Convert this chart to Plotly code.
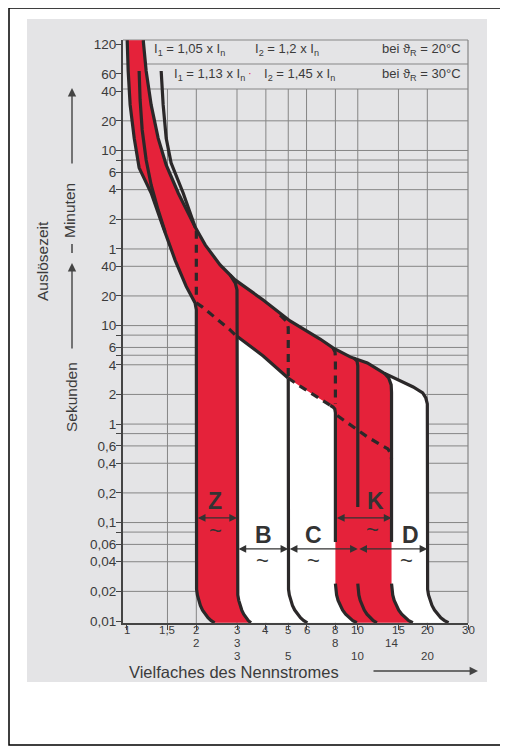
import numpy as np
import plotly.graph_objects as go

# ---------------- data: multiples of I_n  /  trip time in seconds ----------------
# thermal lower limit (I1 = 1,05 x In, 20 °C) - left edge of the red band
lower20_x = [1.004, 1.014, 1.034, 1.077, 1.131, 1.275, 1.437, 1.62, 1.808, 1.919, 1.975, 2.0]
lower20_t = [7900, 3850, 1740, 800, 400, 222, 100, 46, 25, 19.5, 17, 14.5]

# common upper trip curve, running into the instantaneous limit of D
upper_x = [1.178, 1.213, 1.275, 1.367, 1.481, 1.670, 1.977, 2.185, 2.535, 2.944, 3.895,
           5.09, 6.87, 7.81, 9.27, 11.0, 12.93, 15.0, 17.37, 19.1, 19.7, 20.0]
upper_t = [7900, 3850, 1740, 800, 428, 222, 100, 66, 41.3, 29.1, 18.2,
           11.15, 7.3, 5.93, 4.81, 4.18, 3.31, 2.81, 2.38, 2.07, 1.84, 1.6]

# 30 °C curves (start at 60 min)
i1_30_x = [1.131, 1.142, 1.166, 1.213, 1.275, 1.367, 1.466]
i1_30_t = [3850, 1955, 969, 480, 268, 149, 89]
i2_30_x = [1.409, 1.437, 1.481, 1.556, 1.754, 1.977]
i2_30_t = [3850, 1740, 800, 448, 222, 100]

# continuation of the lower thermal limit
low_23_x = [2.0, 2.12, 2.80, 2.97]
low_23_t = [17, 15.5, 9.04, 7.9]
low_mid_x = [3.0, 3.895, 4.99, 5.60, 6.87, 7.6, 7.81, 7.95, 8.0]
low_mid_t = [7.8, 4.92, 2.94, 2.44, 1.80, 1.55, 1.49, 1.42, 1.3]
low_K_x = [8.15, 11.0, 13.5, 13.9, 14.0]
low_K_t = [1.22, 0.74, 0.56, 0.5, 0.44]

# instantaneous (magnetic) limits and where their curves meet the time axis
mag_x = [2, 3, 5, 8, 10, 14, 20]
mag_foot_x = [2.4, 3.45, 6.05, 9.9, 12.1, 17.3, 24.7]
foot_of = dict(zip(mag_x, mag_foot_x))

line2_t = [92, 19]
line3_x = [2.80, 2.95, 3.0];          line3_t = [32.7, 27, 23]
line5_x = [4.61, 4.93, 5.0, 5.0];     line5_t = [12.8, 11.0, 9.5, 2.9]
line8_x = [7.81, 7.97, 8.0, 8.0];     line8_t = [5.93, 5.4, 4.8, 1.6]
line10_x = [9.6, 9.93, 10.0];         line10_t = [4.7, 4.35, 3.9]
line14_x = [13.0, 13.6, 13.95, 14.0]; line14_t = [3.3, 2.95, 2.5, 2.1]
gap_low = [0.0398, 0.0636]     # gap for the B/C/D arrows
gap_high = [0.0884, 0.144]     # gap for the K arrow

# band labels
band_names = ["Z", "K", "B", "C", "D"]
band_from = [2, 8, 3, 5, 10]
band_to = [3, 14, 5, 10, 20]
band_arrow_t = [0.1115, 0.1115, 0.054, 0.054, 0.054]
band_label_x = [2.414, 11.89, 3.895, 6.41, 16.86]
band_label_t = [0.166, 0.166, 0.0749, 0.0749, 0.0749]
band_tilde_x = [2.414, 11.54, 3.86, 6.41, 16.3]
band_tilde_t = [0.0835, 0.085, 0.0415, 0.0415, 0.0415]

# axes
x_ticks = [1, 1.5, 2, 3, 4, 5, 6, 8, 10, 15, 20, 30]
x_ticktext = ["1", "1,5", "2", "3", "4", "5", "6", "8", "10", "15", "20", "30"]
x_row2 = [2, 3, 8, 14]
x_row2_text = ["2", "3", "8", "14"]
x_row3 = [3, 5, 10, 20]
x_row3_text = ["3", "5", "10", "20"]
y_ticks = [7200, 3600, 2400, 1200, 600, 360, 240, 120, 60, 40, 20, 10, 6, 4, 2, 1,
           0.6, 0.4, 0.2, 0.1, 0.06, 0.04, 0.02, 0.01]
y_ticktext = ["120", "60", "40", "20", "10", "6", "4", "2", "1", "40", "20", "10", "6", "4",
              "2", "1", "0,6", "0,4", "0,2", "0,1", "0,06", "0,04", "0,02", "0,01"]
y_minor = [480, 8, 5, 0.8, 0.08]
grid_x = [1.5, 2, 3, 4, 5, 6, 8, 10, 15, 20]
grid_t = [0.02, 0.04, 0.06, 0.08, 0.1, 0.2, 0.4, 0.6, 0.8, 1, 2, 4, 5, 6, 8, 10, 20, 40,
          60, 120, 240, 360, 480, 600, 1200]

# ---------------- styling ----------------
FONT = "Liberation Sans, Arial, Helvetica, sans-serif"
DARK = "#2b2829"
RED = "#e5223a"
GRID = "#858585"
TXT = "#3b3b3b"
OFF = 8                       # page body margin
W, H = 508 - OFF, 751 - OFF   # figure size
PL, PR, PT, PB = 123, 468, 40, 623   # plot area in page pixels
ML, MT = PL - OFF, PT - OFF
MR, MB = W - (PR - OFF), H - (PB - OFF)
PW, PH = PR - PL, PB - PT


def px(xp):
    return (xp - PL) / PW


def py(yp):
    return (PB - yp) / PH


def foot(x0, xf, t0=0.024, t1=0.0096, n=10):
    lx0, lxf = np.log10(x0), np.log10(xf)
    ly0, ly1 = np.log10(t0), np.log10(t1)
    ph = np.linspace(0, np.radians(72), n)
    rx = (lxf - lx0) / (1 - np.cos(ph[-1]))
    ry = (ly0 - ly1) / np.sin(ph[-1])
    return list(10 ** (lx0 + rx * (1 - np.cos(ph)))), list(10 ** (ly0 - ry * np.sin(ph)))


def rev(a):
    return list(a)[::-1]


fig = go.Figure()

# white instantaneous zone (covers grid)
f3x, f3t = foot(3, foot_of[3])
f20x, f20t = foot(20, foot_of[20])
up_sel = [i for i, v in enumerate(upper_x) if v > 2.8]
wx = rev(f3x) + rev(line3_x) + [upper_x[i] for i in up_sel] + f20x
wt = rev(f3t) + rev(line3_t) + [upper_t[i] for i in up_sel] + f20t
fig.add_trace(go.Scatter(x=wx, y=wt, fill="toself", fillcolor="white", mode="none",
                         hoverinfo="skip", showlegend=False))

# red area (Z, thermal band, K)
f2x, f2t = foot(2, foot_of[2])
f8x, f8t = foot(8, foot_of[8])
f14x, f14t = foot(14, foot_of[14])
up_back = [i for i, v in enumerate(upper_x) if v < 12.9][::-1]
rx_ = (lower20_x + f2x + rev(f3x) + low_mid_x + f8x + rev(f14x) + rev(line14_x)
       + [upper_x[i] for i in up_back])
rt_ = (lower20_t + f2t + rev(f3t) + low_mid_t + f8t + rev(f14t) + rev(line14_t)
       + [upper_t[i] for i in up_back])
fig.add_trace(go.Scatter(x=rx_, y=rt_, fill="toself", fillcolor=RED, mode="none",
                         hoverinfo="skip", showlegend=False))


def add_line(xs, ts, dash=None, width=3.2):
    fig.add_trace(go.Scatter(x=xs, y=ts, mode="lines",
                             line=dict(color=DARK, width=width, dash=dash),
                             hoverinfo="skip", showlegend=False, connectgaps=False))


DASH = "8px,6px"
add_line(lower20_x + f2x, lower20_t + f2t)
add_line(upper_x + f20x, upper_t + f20t)
add_line(i1_30_x, i1_30_t)
add_line(i2_30_x, i2_30_t)
add_line(line3_x + f3x, line3_t + f3t)
add_line([2, 2], line2_t, DASH)
add_line(low_23_x, low_23_t, DASH)
add_line(line5_x, line5_t, DASH)
f5x, f5t = foot(5, foot_of[5])
add_line([5] + f5x, [line5_t[-1]] + f5t)
add_line(low_mid_x[:3], low_mid_t[:3])
add_line(low_mid_x[2:6], low_mid_t[2:6], DASH)
add_line(low_mid_x[5:] + [8, None] + f8x, low_mid_t[5:] + [gap_low[1], None] + f8t)
add_line(line8_x, line8_t, DASH)
f10x, f10t = foot(10, foot_of[10])
add_line(line10_x + [10, None] + f10x, line10_t + [gap_high[1], None] + f10t)
add_line(line14_x + [14, None] + f14x, line14_t + [gap_low[1], None] + f14t)
add_line(low_K_x, low_K_t, DASH)

# ---------------- shapes: panel, border, grid, header box ----------------
shapes = []
shapes.append(dict(type="rect", xref="paper", yref="paper", x0=px(27), x1=px(487),
                   y0=py(682), y1=py(19), fillcolor="#e4e4e6", line=dict(width=0), layer="below"))
shapes.append(dict(type="rect", xref="paper", yref="paper", x0=px(9), x1=px(503),
                   y0=py(745), y1=py(8), line=dict(color="black", width=1.5), layer="below"))
for g in grid_x:
    shapes.append(dict(type="line", xref="x", yref="paper", x0=g, x1=g,
                       y0=0, y1=py(89), line=dict(color=GRID, width=1), layer="below"))
for g in grid_t:
    shapes.append(dict(type="line", xref="paper", yref="y", x0=0, x1=1, y0=g,
                       y1=g, line=dict(color=GRID, width=1), layer="below"))
for yy in [89, 64, 40]:
    shapes.append(dict(type="line", xref="paper", yref="paper", x0=0, x1=1, y0=py(yy),
                       y1=py(yy), line=dict(color=GRID, width=1.2), layer="below"))
shapes.append(dict(type="line", xref="paper", yref="paper", x0=1, x1=1, y0=0, y1=1,
                   line=dict(color=GRID, width=1.2), layer="below"))
shapes.append(dict(type="line", xref="paper", yref="paper", x0=px(72), x1=px(72),
                   y0=py(253), y1=py(244), line=dict(color="#444", width=1.5)))

# ---------------- annotations ----------------
ann = []
f13 = dict(family=FONT, size=13, color=TXT)
ftick = dict(family=FONT, size=11.5, color=TXT)


def ptext(x, y, s, font, xa="center", ya="middle", angle=0):
    return dict(x=px(x), y=py(y), xref="paper", yref="paper", xanchor=xa, yanchor=ya,
                text=s, showarrow=False, font=font, textangle=angle)


ann += [
    ptext(152, 49, "I<sub>1</sub> = 1,05 x I<sub>n</sub>", f13, "left"),
    ptext(253, 49, "I<sub>2</sub> = 1,2 x I<sub>n</sub>", f13, "left"),
    ptext(463, 49, "bei ϑ<sub>R</sub> = 20°C", f13, "right"),
    ptext(172, 74, "I<sub>1</sub> = 1,13 x I<sub>n</sub>", f13, "left"),
    ptext(250, 73, "·", dict(family=FONT, size=11, color=RED)),
    ptext(262, 74, "I<sub>2</sub> = 1,45 x I<sub>n</sub>", f13, "left"),
    ptext(463, 74, "bei ϑ<sub>R</sub> = 30°C", f13, "right"),
]
for name, a, b, t, lx, lt, tx, tt in zip(band_names, band_from, band_to, band_arrow_t,
                                         band_label_x, band_label_t, band_tilde_x, band_tilde_t):
    ann.append(dict(x=np.log10(b), y=np.log10(t), ax=np.log10(a), ay=np.log10(t),
                    xref="x", yref="y", axref="x", ayref="y", text="", showarrow=True,
                    arrowhead=2, arrowside="end+start", arrowsize=1.1, arrowwidth=1.4,
                    arrowcolor="#333"))
    ann.append(dict(x=np.log10(lx), y=np.log10(lt), xref="x", yref="y", text="<b>%s</b>" % name,
                    showarrow=False, font=dict(family=FONT, size=23, color="#333")))
    ann.append(dict(x=np.log10(tx), y=np.log10(tt), xref="x", yref="y", text="~",
                    showarrow=False, font=dict(family=FONT, size=22, color="#333")))
for vals, texts, yy in [(x_ticks, x_ticktext, 630), (x_row2, x_row2_text, 643),
                        (x_row3, x_row3_text, 656)]:
    for v, s in zip(vals, texts):
        ann.append(dict(x=np.log10(v), y=py(yy), xref="x", yref="paper", text=s,
                        showarrow=False, font=ftick, xanchor="center", yanchor="middle"))
f15 = dict(family=FONT, size=15.5, color=TXT)
ann += [
    ptext(127, 672, "Vielfaches des Nennstromes", dict(family=FONT, size=16.5, color=TXT), "left"),
    dict(x=px(478), y=py(671), xref="paper", yref="paper", ax=-106, ay=0, text="",
         showarrow=True, arrowhead=2, arrowsize=1.2, arrowwidth=1.4, arrowcolor="#444"),
    ptext(43, 261, "Auslösezeit", f15, angle=-90),
    ptext(69, 210, "Minuten", f15, angle=-90),
    ptext(71, 397, "Sekunden", f15, angle=-90),
    dict(x=px(72), y=py(88), xref="paper", yref="paper", ax=0, ay=77, text="",
         showarrow=True, arrowhead=2, arrowsize=1.2, arrowwidth=1.4, arrowcolor="#444"),
    dict(x=px(72), y=py(263), xref="paper", yref="paper", ax=0, ay=87, text="",
         showarrow=True, arrowhead=2, arrowsize=1.2, arrowwidth=1.4, arrowcolor="#444"),
]

fig.update_layout(
    width=W, height=H, margin=dict(l=ML, r=MR, t=MT, b=MB, autoexpand=False),
    paper_bgcolor="white", plot_bgcolor="white", showlegend=False,
    shapes=shapes, annotations=ann,
    font=dict(family=FONT, color=TXT),
)
fig.update_xaxes(type="log", range=[np.log10(30) - PW / 231.0, np.log10(30) + 1e-6],
                 tickvals=x_ticks, showticklabels=False, showgrid=False, zeroline=False,
                 showline=True, linecolor="#444", linewidth=2, ticks="outside", ticklen=5,
                 tickcolor="#444")
fig.update_yaxes(type="log", range=[-2.02, 3.9], tickvals=y_ticks, ticktext=y_ticktext,
                 showgrid=False, zeroline=False, showline=True, linecolor="#444", linewidth=2,
                 ticks="outside", ticklen=5, tickcolor="#444", ticklabelstandoff=-3,
                 tickfont=dict(family=FONT, size=13.5, color=TXT),
                 minor=dict(tickmode="array", tickvals=y_minor, ticks="outside", ticklen=5,
                            tickcolor="#444", showgrid=False))
fig.write_html("out.html")
